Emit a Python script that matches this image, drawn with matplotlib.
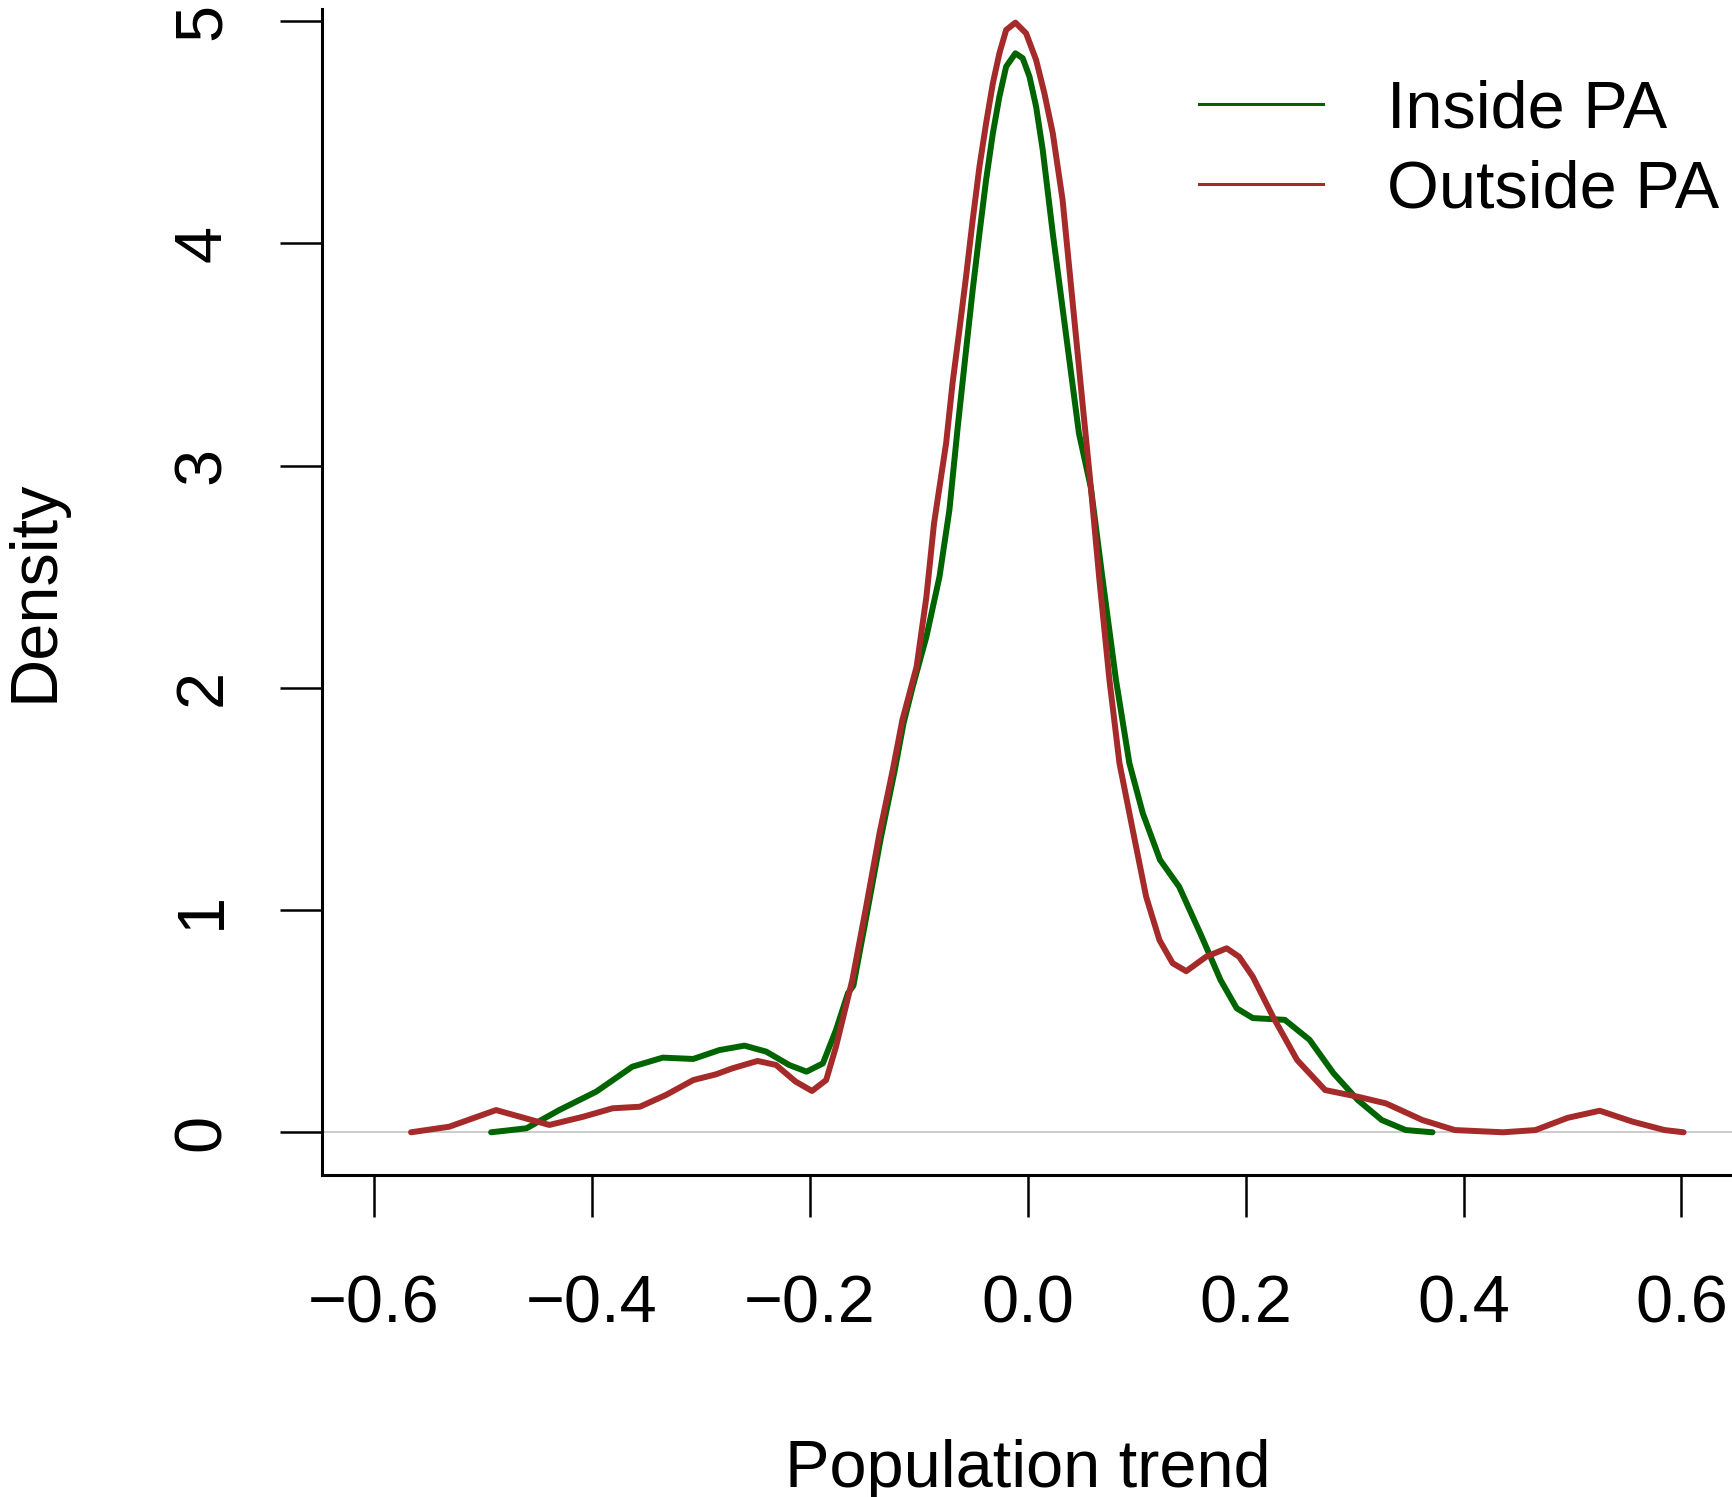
import numpy as np
import matplotlib
matplotlib.use("Agg")
import matplotlib.pyplot as plt

plt.rcParams["font.family"] = ["Liberation Sans", "DejaVu Sans"]

# density curves (x = population trend, y = density)
inside_x = [-0.4925, -0.460, -0.430, -0.396, -0.363, -0.335, -0.307, -0.283,
            -0.260, -0.240, -0.219, -0.203, -0.188, -0.176, -0.165, -0.160,
            -0.147, -0.135, -0.122, -0.114, -0.1056, -0.093, -0.081, -0.0719,
            -0.0642, -0.0566, -0.0505, -0.0443, -0.0382, -0.032, -0.026,
            -0.0198, -0.0113, -0.0046, 0.0016, 0.0077, 0.0138, 0.023, 0.035,
            0.047, 0.058, 0.0688, 0.081, 0.0933, 0.1056, 0.1214, 0.139,
            0.1584, 0.177, 0.1918, 0.2066, 0.236, 0.2587, 0.2806, 0.303,
            0.325, 0.347, 0.3715]
inside_y = [0.0, 0.018, 0.10, 0.183, 0.295, 0.336, 0.330, 0.370,
            0.390, 0.363, 0.303, 0.273, 0.31, 0.46, 0.626, 0.66,
            1.00, 1.32, 1.63, 1.84, 2.005, 2.23, 2.50, 2.80,
            3.176, 3.52, 3.791, 4.046, 4.286, 4.496, 4.661,
            4.796, 4.856, 4.834, 4.751, 4.616, 4.42, 4.046, 3.596,
            3.146, 2.90, 2.486, 2.036, 1.661, 1.436, 1.226, 1.105,
            0.895, 0.685, 0.558, 0.514, 0.506, 0.416, 0.266, 0.145,
            0.055, 0.01, 0.0]

outside_x = [-0.566, -0.531, -0.488, -0.439, -0.408, -0.381, -0.356, -0.332,
             -0.307, -0.286, -0.271, -0.248, -0.231, -0.213, -0.198, -0.185,
             -0.176, -0.167, -0.161, -0.1483, -0.136, -0.1239, -0.115,
             -0.102, -0.093, -0.086, -0.0749, -0.069, -0.0627, -0.0566,
             -0.0505, -0.0443, -0.0382, -0.032, -0.026, -0.0198, -0.0113,
             -0.0015, 0.0077, 0.0153, 0.023, 0.032, 0.041, 0.050, 0.058,
             0.0658, 0.075, 0.0842, 0.0964, 0.1087, 0.1209, 0.133, 0.1455,
             0.1637, 0.1826, 0.194, 0.2066, 0.2251, 0.2473, 0.273, 0.303,
             0.3288, 0.3623, 0.392, 0.4363, 0.466, 0.4955, 0.525, 0.555,
             0.5845, 0.602]
outside_y = [0.0, 0.025, 0.10, 0.033, 0.07, 0.108, 0.115, 0.168,
             0.235, 0.261, 0.288, 0.321, 0.303, 0.228, 0.186, 0.235,
             0.385, 0.565, 0.685, 1.015, 1.346, 1.63, 1.856,
             2.095, 2.41, 2.74, 3.101, 3.371, 3.611, 3.851,
             4.106, 4.346, 4.541, 4.721, 4.856, 4.961, 4.994,
             4.946, 4.826, 4.676, 4.496, 4.196, 3.746, 3.296, 2.90,
             2.486, 2.036, 1.661, 1.360, 1.060, 0.865, 0.761, 0.725,
             0.79, 0.828, 0.79, 0.70, 0.52, 0.325, 0.19, 0.16,
             0.13, 0.055, 0.01, 0.0, 0.01, 0.065, 0.097, 0.048,
             0.01, 0.0]

series_labels = ["Inside PA", "Outside PA"]
series_colors = ["#006400", "#A52A2A"]
x_ticks = [-0.6, -0.4, -0.2, 0.0, 0.2, 0.4, 0.6]
y_ticks = [0, 1, 2, 3, 4, 5]

FS = 48

fig = plt.figure(figsize=(17.33, 14.97), dpi=100)
ax = fig.add_axes([0.18563, 0.21510, 0.8148, 0.77869])

ax.axhline(0, color="#BEBEBE", lw=1.1, zorder=1)
ax.plot(inside_x, inside_y, color=series_colors[0], lw=4.3, zorder=3,
        solid_capstyle="round", solid_joinstyle="round")
ax.plot(outside_x, outside_y, color=series_colors[1], lw=4.3, zorder=4,
        solid_capstyle="round", solid_joinstyle="round")

ax.set_xlim(-0.648, 0.648)
ax.set_ylim(-0.1922, 5.054)

for side in ("top", "right"):
    ax.spines[side].set_visible(False)
for side in ("left", "bottom"):
    ax.spines[side].set_linewidth(2.2)

ax.set_xticks(x_ticks)
ax.set_xticklabels([f"{t:.1f}".replace("-", "\u2212") for t in x_ticks])
ax.set_yticks(y_ticks)
ax.set_yticklabels([str(t) for t in y_ticks])
ax.tick_params(axis="both", direction="out", length=30, width=1.8,
               labelsize=FS)
ax.tick_params(axis="x", pad=42)
ax.tick_params(axis="y", pad=33, labelrotation=90)
for lbl in ax.get_yticklabels():
    lbl.set_va("center")

fig.text(36 / 1733, 1 - 591 / 1497, "Density", rotation=90,
         ha="center", va="center", fontsize=FS)
fig.text(1028 / 1733, 10 / 1497, "Population trend",
         ha="center", va="baseline", fontsize=FS)

handles = [plt.Line2D([], [], color=c, lw=2.2) for c in series_colors]
fig.legend(handles, series_labels, loc="upper left",
           bbox_to_anchor=(1199 / 1733, 1 - 79 / 1497), frameon=False,
           fontsize=FS, borderpad=0, borderaxespad=0, handlelength=1.86,
           handletextpad=0.96, labelspacing=0.28)

fig.savefig("out.png", dpi=100)
